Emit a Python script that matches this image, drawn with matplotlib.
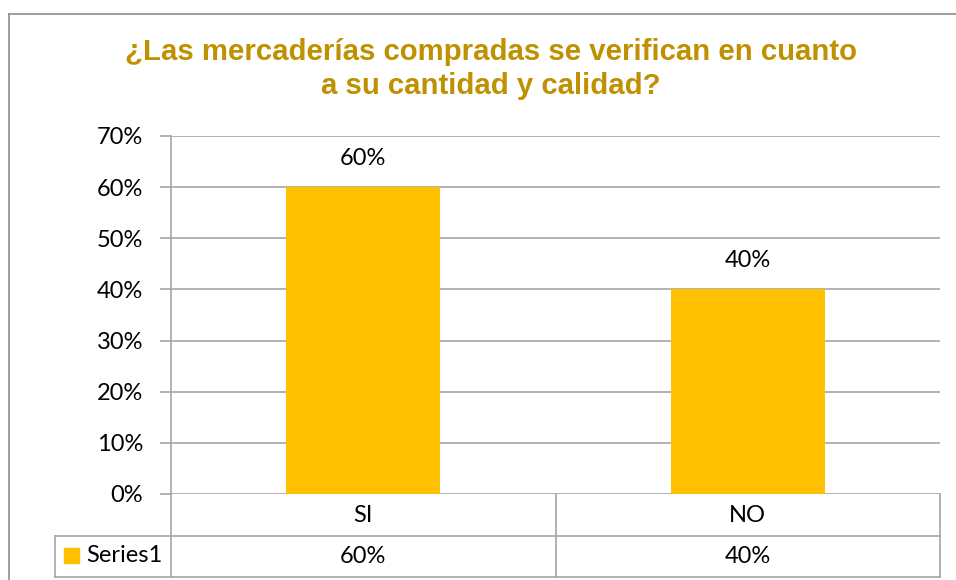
import matplotlib
matplotlib.use("Agg")
import matplotlib.pyplot as plt
from matplotlib.lines import Line2D
from matplotlib.patches import Rectangle
import matplotlib.transforms as mtransforms

categories = ["SI", "NO"]
values = [0.60, 0.40]
series_name = "Series1"
yticks = [0.0, 0.1, 0.2, 0.3, 0.4, 0.5, 0.6, 0.7]
title_lines = ["¿Las mercaderías compradas se verifican en cuanto", "a su cantidad y calidad?"]

W, H = 956, 580
fig = plt.figure(figsize=(W / 100, H / 100), dpi=100)
fig.patch.set_facecolor("white")

L, R, T, B = 171, 940, 136, 494
ax = fig.add_axes([L / W, 1 - B / H, (R - L) / W, (B - T) / H])

bar_color = "#FFC000"
grid_color = "#A6A6A6"
tick_font = "Lato"
fs = 17

x = list(range(len(categories)))
ax.bar(x, values, width=0.4, color=bar_color, zorder=3)
ax.set_xlim(-0.5, len(categories) - 0.5)
ax.set_ylim(0, 0.7)
ax.set_yticks(yticks)
ax.set_yticklabels([f"{int(round(v*100))}%" for v in yticks], fontsize=fs, family=tick_font)
ax.set_xticks([])
ax.tick_params(axis="y", length=8, color=grid_color, width=1.2, pad=12)
for v in yticks:
    ax.axhline(v, color=grid_color, lw=1.2, zorder=1)
for s in ["top", "right", "bottom"]:
    ax.spines[s].set_visible(False)
ax.spines["left"].set_color(grid_color)
ax.spines["left"].set_linewidth(1.2)

for xi, v in zip(x, values):
    ax.annotate(f"{int(round(v*100))}%", (xi, v), xytext=(0, 13), textcoords="offset points",
                ha="center", va="bottom", fontsize=fs, family=tick_font)

# data table
ah = B - T
r1 = -(536 - B) / ah
r2 = -(577 - B) / ah
left_leg = (55 - L) / (R - L)
tr = ax.transAxes
lk = dict(color=grid_color, lw=1.2, clip_on=False, transform=tr)
ax.add_line(Line2D([0, 0], [0, r2], **lk))
ax.add_line(Line2D([1, 1], [0, r2], **lk))
ax.add_line(Line2D([0.5, 0.5], [0, r2], **lk))
ax.add_line(Line2D([left_leg, left_leg], [r1, r2], **lk))
ax.add_line(Line2D([left_leg, 1], [r1, r1], **lk))
ax.add_line(Line2D([left_leg, 1], [r2, r2], **lk))

blend = mtransforms.blended_transform_factory(ax.transData, ax.transAxes)
for xi, c, v in zip(x, categories, values):
    ax.text(xi, r1 / 2, c, transform=blend, ha="center", va="center", fontsize=fs, family=tick_font)
    ax.text(xi, (r1 + r2) / 2, f"{int(round(v*100))}%", transform=blend, ha="center", va="center",
            fontsize=fs, family=tick_font)

# legend key
fig.add_artist(Rectangle((64 / W, 1 - 563 / H), 15 / W, 15 / H, color=bar_color, transform=fig.transFigure))
fig.text(86 / W, 1 - 556 / H, series_name, ha="left", va="center", fontsize=fs, family=tick_font)

# title
for ty, line in zip([52, 86], title_lines):
    fig.text(0.5 * (124 + 858) / W, 1 - ty / H, line, ha="center", va="center", fontsize=21.2,
             fontweight="bold", color="#BF9000", family="Liberation Sans")

# outer frame
fig.add_artist(Line2D([9 / W, 9 / W], [0, 1 - 14 / H], color="#8C8C8C", lw=1.2, transform=fig.transFigure))
fig.add_artist(Line2D([9 / W, 1], [1 - 14 / H, 1 - 14 / H], color="#8C8C8C", lw=1.2, transform=fig.transFigure))

fig.savefig("out.png", dpi=100)
